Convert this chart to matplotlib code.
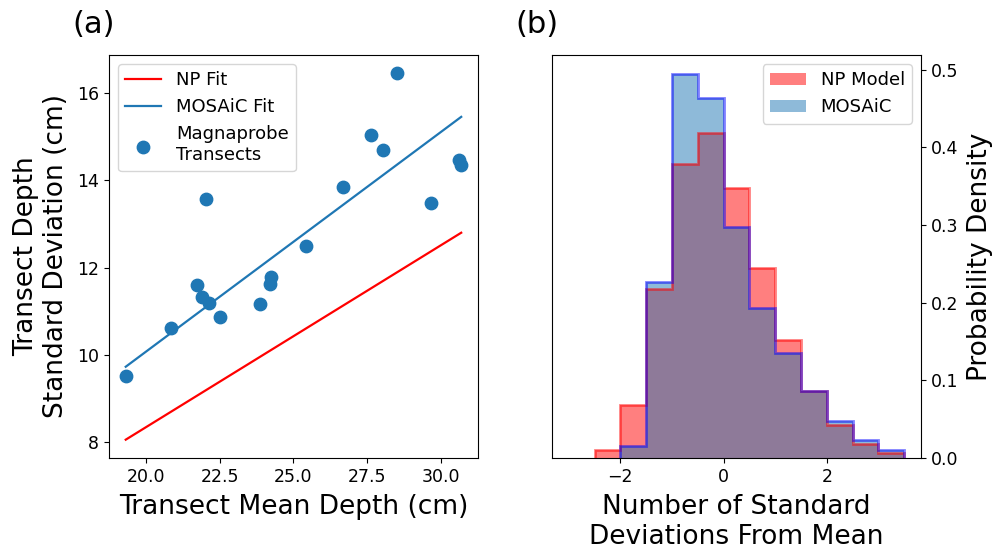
import numpy as np
from matplotlib import pyplot as plt
from matplotlib.ticker import MultipleLocator, FormatStrFormatter

# magnaprobe transects: mean depth and standard deviation (cm)
mean_depth = [19.32, 20.87, 21.72, 21.92, 22.15, 22.04, 22.52, 23.86, 24.20,
              24.23, 25.42, 26.70, 27.64, 28.05, 28.51, 29.67, 30.62, 30.69]
std_depth = [9.52, 10.62, 11.59, 11.33, 11.18, 13.56, 10.86, 11.17, 11.63,
             11.79, 12.50, 13.85, 15.04, 14.70, 16.45, 13.47, 14.47, 14.36]

# fitted std/mean ratios
np_ratio = 0.417
mosaic_ratio = 0.5035

# histogram of normalised depths
bin_edges = [-3.0, -2.5, -2.0, -1.5, -1.0, -0.5, 0.0, 0.5, 1.0, 1.5, 2.0, 2.5, 3.0, 3.5]
np_density = [0.0, 0.010, 0.068, 0.218, 0.379, 0.418, 0.348, 0.245, 0.152,
              0.086, 0.042, 0.0185, 0.007]
mosaic_density = [0.0, 0.0, 0.0155, 0.226, 0.494, 0.463, 0.297, 0.193, 0.135,
                  0.086, 0.048, 0.0236, 0.0107]

fig = plt.figure(figsize=(9.96, 5.5), dpi=100)
ax1 = fig.add_axes([0.1094, 0.1673, 0.3705, 0.7327])
ax2 = fig.add_axes([0.5542, 0.1673, 0.3705, 0.7327])

# (a) scatter with fits
x_fit = np.array([min(mean_depth), max(mean_depth)])
ax1.plot(x_fit, np_ratio * x_fit, color='red', lw=1.6, label='NP Fit')
ax1.plot(x_fit, mosaic_ratio * x_fit, color='C0', lw=1.6, label='MOSAiC Fit')
ax1.scatter(mean_depth, std_depth, s=80, color='C0', label='Magnaprobe\nTransects')
ax1.xaxis.set_major_locator(MultipleLocator(2.5))
ax1.xaxis.set_major_formatter(FormatStrFormatter('%.1f'))
ax1.set_xlabel('Transect Mean Depth (cm)', fontsize=19, labelpad=6)
ax1.set_ylabel('Transect Depth\nStandard Deviation (cm)', fontsize=19, labelpad=6)
ax1.tick_params(labelsize=12.5)
ax1.legend(loc='upper left', fontsize=13)
ax1.text(-0.1, 1.076, '(a)', transform=ax1.transAxes, fontsize=22, va='center')

# (b) histograms, edges drawn only over the non-empty bins
ax2.stairs(np_density, bin_edges, fill=True, color='red', alpha=0.5, lw=0, label='NP Model')
ax2.stairs(mosaic_density, bin_edges, fill=True, color='C0', alpha=0.5, lw=0, label='MOSAiC')
ax2.stairs(np_density[1:], bin_edges[1:], color='red', alpha=0.5, lw=2)
ax2.stairs(mosaic_density[2:], bin_edges[2:], color='blue', alpha=0.5, lw=2)
ax2.set_xlim(-3.325, 3.825)
ax2.yaxis.tick_right()
ax2.yaxis.set_label_position('right')
ax2.set_xlabel('Number of Standard\nDeviations From Mean', fontsize=19, labelpad=6)
ax2.set_ylabel('Probability Density', fontsize=19, labelpad=6)
ax2.tick_params(labelsize=12.5)
ax2.legend(loc='upper right', fontsize=13)
ax2.text(-0.1, 1.076, '(b)', transform=ax2.transAxes, fontsize=22, va='center')

fig.savefig('out.png', dpi=100)
